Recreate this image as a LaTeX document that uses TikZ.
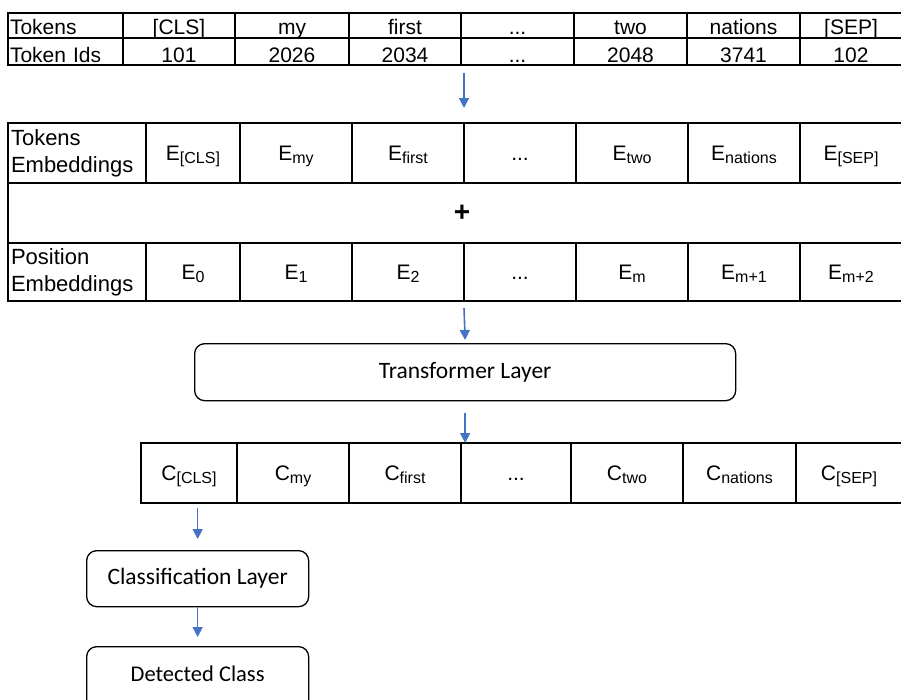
\documentclass[tikz,border=0pt]{standalone}
\usepackage{fontspec}
\setmainfont{Liberation Sans}
\newfontfamily\calibfont{Carlito}
\usetikzlibrary{arrows.meta}
\definecolor{arrblue}{HTML}{4472C4}
\newcommand\sbs[1]{\raisebox{-3.3pt}{\fontsize{16}{16}\selectfont #1}}
\newcommand\dts{...}
\begin{document}
\begin{tikzpicture}[x=1pt,y=-1pt,
 cell/.style={draw=black, line width=1.3pt, anchor=north west, inner sep=0pt, outer sep=0pt},
 toptxt/.style={font=\fontsize{21}{25}\selectfont, text height=18pt, text depth=0pt},
 embtxt/.style={font=\fontsize{21}{25}\selectfont, text height=15pt, text depth=0pt},
 lbl/.style={font=\fontsize{22}{27}\selectfont, align=left, inner xsep=3pt},
 rbox/.style={draw=black, line width=1.3pt, rounded corners=10pt, anchor=north west, inner sep=0pt, font=\calibfont\fontsize{23.5}{28}\selectfont},
 arr/.style={draw=arrblue, line width=1.6pt, -{Triangle[width=10pt,length=10pt]}}
]
\useasboundingbox (0,0) rectangle (901,699);

% top table
\node[cell, toptxt, minimum width=115pt, minimum height=25pt, text width=111pt, align=left, inner xsep=2pt] (tk10) at (8,13) {Tokens};
\node[cell, toptxt, text height=22pt, minimum width=115pt, minimum height=27pt, text width=111pt, align=left, inner xsep=2pt] (tk20) at (8,38) {Token Ids};
\foreach \n/\xa/\xb/\ta/\tb in {1/123/235/{[CLS]}/101, 2/235/349/my/2026, 3/349/461/first/2034, 4/461/574/\dts/\dts, 5/574/687/two/2048, 6/687/800/nations/3741, 7/800/902/{[SEP]}/102}{
 \node[cell, toptxt, minimum width={(\xb-\xa)*1pt}, minimum height=25pt] (tk1\n) at (\xa,13) {\ta};
 \node[cell, toptxt, text height=22pt, minimum width={(\xb-\xa)*1pt}, minimum height=27pt] (tk2\n) at (\xa,38) {\tb};
}

% embeddings table
\node[cell, lbl, minimum width=138pt, minimum height=60pt, text width=132pt] (te0) at (8,123) {Tokens\\Embeddings};
\node[cell, minimum width=894pt, minimum height=60pt] (plusrow) at (8,183) {};
\node[cell, lbl, minimum width=138pt, minimum height=58pt, text width=132pt] (pe0) at (8,243) {Position\\Embeddings};
\foreach \n/\xa/\xb/\ta/\tb in {1/146/240/{E\sbs{[CLS]}}/{E\sbs{0}}, 2/240/352/{E\sbs{my}}/{E\sbs{1}}, 3/352/464/{E\sbs{first}}/{E\sbs{2}}, 4/464/576/\dts/\dts, 5/576/688/{E\sbs{two}}/{E\sbs{m}}, 6/688/800/{E\sbs{nations}}/{E\sbs{m+1}}, 7/800/902/{E\sbs{[SEP]}}/{E\sbs{m+2}}}{
 \node[cell, embtxt, minimum width={(\xb-\xa)*1pt}, minimum height=60pt] (te\n) at (\xa,123) {\ta};
 \node[cell, embtxt, minimum width={(\xb-\xa)*1pt}, minimum height=58pt] (pe\n) at (\xa,243) {\tb};
}
\node[font=\bfseries\fontsize{28}{28}\selectfont, inner sep=0pt] (plus) at (462,213) {+};

% transformer
\node[rbox, minimum width=541pt, minimum height=57pt] (tr) at (194,343) {Transformer Layer};

% output row
\foreach \n/\xa/\xb/\ta in {1/141/237/{C\sbs{[CLS]}}, 2/237/349/{C\sbs{my}}, 3/349/461/{C\sbs{first}}, 4/461/571/\dts, 5/571/683/{C\sbs{two}}, 6/683/796/{C\sbs{nations}}, 7/796/902/{C\sbs{[SEP]}}}{
 \node[cell, embtxt, minimum width={(\xb-\xa)*1pt}, minimum height=60pt] (c\n) at (\xa,443) {\ta};
}

% classification
\node[rbox, minimum width=222pt, minimum height=56pt] (cl) at (86,550) {Classification Layer};
\node[rbox, minimum width=222pt, minimum height=64pt] (dc) at (86,646) {};
\node[font=\calibfont\fontsize{22.5}{27}\selectfont, inner sep=0pt] (dctxt) at ([yshift=5pt]dc.center) {Detected Class};

% arrows
\draw[arr] ([yshift=-8pt]tk24.south west -| te4.north west) -- ([yshift=15pt]te4.north west);
\draw[arr] ([yshift=-7pt]pe4.south west) -- ([yshift=3pt]tr.north);
\draw[arr] ([yshift=-12pt]tr.south) -- (tr.south |- c4.north);
\draw[arr] ([yshift=-5pt]c1.south -| cl.north) -- ([yshift=11pt]cl.north);
\draw[arr] (cl.south) -- ([yshift=9pt]dc.north);
\end{tikzpicture}
\end{document}
